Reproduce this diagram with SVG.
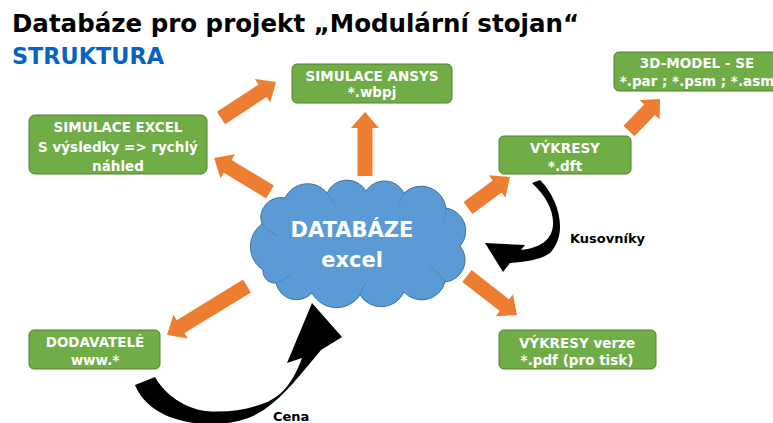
<svg xmlns="http://www.w3.org/2000/svg" width="773" height="423" viewBox="0 0 773 423">
<style>
.box{fill:#70ad47;stroke:#507e32;stroke-width:1}
.bt{font-family:"DejaVu Sans",sans-serif;font-weight:bold;font-size:13.5px;fill:#fff;text-anchor:middle}
.oa{fill:#ed7d31}
.lbl{font-family:"DejaVu Sans",sans-serif;font-weight:bold;font-size:13px;fill:#000}
</style>
<rect width="773" height="423" fill="#fff"/>
<text x="12" y="32" font-family="DejaVu Sans, sans-serif" font-weight="bold" font-size="25" textLength="567" lengthAdjust="spacingAndGlyphs" fill="#000">Databáze pro projekt „Modulární stojan“</text>
<text x="12" y="64" font-family="DejaVu Sans, sans-serif" font-weight="bold" font-size="23" textLength="152" lengthAdjust="spacingAndGlyphs" fill="#0563c1">STRUKTURA</text>

<g id="connectors">
  <path class="oa" transform="translate(365,176) rotate(-90)" d="M0,-7.5 H48 V-14 L64,0 L48,14 V7.5 H0 Z"/>
  <path class="oa" transform="translate(221,118) rotate(-33.2)" d="M0,-7.5 H49.7 V-14 L65.7,0 L49.7,14 V7.5 H0 Z"/>
  <path class="oa" transform="translate(270,192) rotate(-148.7)" d="M0,-7.5 H49.5 V-14 L65.5,0 L49.5,14 V7.5 H0 Z"/>
  <path class="oa" transform="translate(468,208) rotate(-36.4)" d="M0,-7.5 H36.2 V-14 L52.2,0 L36.2,14 V7.5 H0 Z"/>
  <path class="oa" transform="translate(629,131) rotate(-45.9)" d="M0,-7.5 H29.5 V-14 L44.5,0 L29.5,14 V7.5 H0 Z"/>
  <path class="oa" transform="translate(467,276) rotate(38)" d="M0,-7.5 H47.4 V-14 L63.4,0 L47.4,14 V7.5 H0 Z"/>
  <path class="oa" transform="translate(247,286) rotate(148.5)" d="M0,-7.5 H77.8 V-14 L93.8,0 L77.8,14 V7.5 H0 Z"/>
  <path id="kus" fill="#000" d="M532,183 L540,180 C560,200 568,235 550,253 C540,260 525,262 510,263 L503,272 L485,243 L525,245 L521,250 C540,248 552,240 553,225 C554,210 545,195 532,183 Z"/>
  <path id="cena" fill="#000" d="M135,385 C145,410 175,425 215,424 C240,423 255,416 265,409 C285,395 300,375 321,350 L342,337 L312,303 L287,363 L302,358 C292,385 280,398 262,404 C245,410 225,413 205,411 C185,408 165,395 155,377 Z"/>
  <text class="lbl" x="273" y="421">Cena</text>
  <text class="lbl" x="570" y="243">Kusovníky</text>
</g>

<g id="databaze">
  <path fill="#5b9bd5" stroke="#41719c" stroke-width="1" d="M263,270 A28,28 0 0 1 262,224 A20,20 0 0 1 285,198 A25,25 0 0 1 327,193 A22,22 0 0 1 366,191 A22,22 0 0 1 404,193 A25,25 0 0 1 446,208 A23,23 0 0 1 460,246 A22,22 0 0 1 445,282 A24,24 0 0 1 404,292 A25,25 0 0 1 360,295 A28,28 0 0 1 312,293 A21,21 0 0 1 276,283 A12,12 0 0 1 263,270 Z"/>
  <g fill="none" stroke="#41719c" stroke-width="0.8" opacity="0.6">
    <path d="M262,224 Q268,232 278,236"/>
    <path d="M327,193 Q330,199 335,204"/>
    <path d="M404,193 Q401,199 398,205"/>
    <path d="M446,208 Q446,216 443,222"/>
    <path d="M445,282 Q438,272 430,266"/>
    <path d="M360,295 Q362,288 366,282"/>
    <path d="M276,283 Q283,280 290,276"/>
  </g>
  <text x="352" y="237" font-family="DejaVu Sans, sans-serif" font-weight="bold" font-size="21" fill="#fff" text-anchor="middle">DATABÁZE</text>
  <text x="352" y="267" font-family="DejaVu Sans, sans-serif" font-weight="bold" font-size="21" fill="#fff" text-anchor="middle">excel</text>
</g>

<g id="ansys">
  <rect class="box" x="292" y="64" width="160" height="39" rx="5"/>
  <text class="bt" x="372" y="81">SIMULACE ANSYS</text>
  <text class="bt" x="372" y="97">*.wbpj</text>
</g>

<g id="excel">
  <rect class="box" x="29" y="115" width="178" height="59" rx="6"/>
  <text class="bt" x="118" y="132">SIMULACE EXCEL</text>
  <text class="bt" x="118" y="152">S výsledky =&gt; rychlý</text>
  <text class="bt" x="118" y="171">náhled</text>
</g>

<g id="vykresy">
  <rect class="box" x="499" y="136" width="132" height="38" rx="5"/>
  <text class="bt" x="565" y="153">VÝKRESY</text>
  <text class="bt" x="565" y="171">*.dft</text>
</g>

<g id="model3d">
  <rect class="box" x="614" y="52" width="166" height="39" rx="5"/>
  <text class="bt" x="697" y="68">3D-MODEL - SE</text>
  <text class="bt" x="697" y="86">*.par ; *.psm ; *.asm</text>
</g>

<g id="dodavatele">
  <rect class="box" x="29" y="330" width="131" height="39" rx="5"/>
  <text class="bt" x="95" y="347">DODAVATELÉ</text>
  <text class="bt" x="95" y="365">www.*</text>
</g>

<g id="vykresy_verze">
  <rect class="box" x="499" y="330" width="157" height="39" rx="5"/>
  <text class="bt" x="577" y="348">VÝKRESY verze</text>
  <text class="bt" x="577" y="365">*.pdf (pro tisk)</text>
</g>
</svg>
